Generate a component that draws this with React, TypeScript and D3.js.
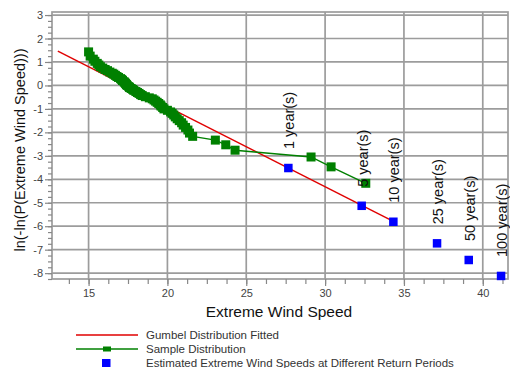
import React, { useEffect, useRef } from 'react';
import * as d3 from 'd3';

// sample distribution (ordered annual extremes)
const sampleSpeed = [
  15.0, 15.1, 15.3, 15.4, 15.55, 15.65, 15.75, 15.9, 16.05, 16.2,
  16.35, 16.5, 16.6, 16.7, 16.8, 16.9, 17.03, 17.1, 17.15, 17.25,
  17.3, 17.35, 17.4, 17.45, 17.55, 17.6, 17.7, 17.8, 17.87, 18.0,
  18.1, 18.2, 18.3, 18.4, 18.6, 18.85, 19.04, 19.15, 19.25, 19.35,
  19.45, 19.55, 19.6, 19.7, 19.78, 20.0, 20.2, 20.3, 20.4, 20.5,
  20.62, 20.75, 20.9, 21.0, 21.15, 21.3, 21.4, 21.6, 23.04, 23.7,
  24.29, 29.11, 30.38, 32.58,
];
const sampleLnLn = [
  1.43, 1.25, 1.12, 1.03, 0.94, 0.87, 0.8, 0.74, 0.68, 0.63,
  0.57, 0.52, 0.48, 0.43, 0.38, 0.34, 0.29, 0.25, 0.21, 0.16,
  0.12, 0.08, 0.04, 0.0, -0.05, -0.09, -0.13, -0.17, -0.21, -0.26,
  -0.3, -0.34, -0.39, -0.43, -0.48, -0.53, -0.57, -0.62, -0.67, -0.72,
  -0.77, -0.83, -0.88, -0.94, -1.0, -1.06, -1.13, -1.19, -1.26, -1.34,
  -1.42, -1.5, -1.59, -1.69, -1.79, -1.9, -2.03, -2.17, -2.33, -2.53,
  -2.76, -3.05, -3.47, -4.17,
];

// fitted gumbel line (end points)
const fittedSpeed = [13.05, 34.33];
const fittedLnLn = [1.46, -5.79];

// return period estimates
const returnLabels = ['1 year(s)', '5 year(s)', '10 year(s)', '25 year(s)', '50 year(s)', '100 year(s)'];
const returnSpeed = [27.67, 32.32, 34.33, 37.1, 39.11, 41.16];
const returnLnLn = [-3.52, -5.13, -5.81, -6.73, -7.44, -8.12];

const xTicks = [15, 20, 25, 30, 35, 40];
const yTicks = [3, 2, 1, 0, -1, -2, -3, -4, -5, -6, -7, -8];

const legendLabels = [
  'Gumbel Distribution Fitted',
  'Sample Distribution',
  'Estimated Extreme Wind Speeds at Different Return Periods',
];

const WIDTH = 510;
const HEIGHT = 368;
const FONT = '"Liberation Sans", Arial, sans-serif';

const App = () => {
  const svgRef = useRef<SVGSVGElement>(null);

  useEffect(() => {
    const svg = d3.select(svgRef.current);
    svg.selectAll('*').remove();

    const left = 52, right = 508, top = 12, bottom = 279;
    const xScale = d3.scaleLinear().domain([12.68, 41.6]).range([left, right]);
    const yScale = d3.scaleLinear().domain([-8.25, 3.13]).range([bottom, top]);
    const gridColor = '#9c9c9c';

    svg.append('rect').attr('width', WIDTH).attr('height', HEIGHT).attr('fill', '#fff');

    // grid
    const grid = svg.append('g').attr('stroke', gridColor).attr('stroke-width', 1.7);
    grid.selectAll('.vx').data(xTicks).join('line')
      .attr('x1', d => xScale(d)).attr('x2', d => xScale(d))
      .attr('y1', top).attr('y2', bottom);
    grid.selectAll('.hy').data(yTicks).join('line')
      .attr('class', 'hy')
      .attr('x1', left).attr('x2', right)
      .attr('y1', d => yScale(d)).attr('y2', d => yScale(d));
    svg.append('rect')
      .attr('x', left).attr('y', top)
      .attr('width', right - left).attr('height', bottom - top)
      .attr('fill', 'none').attr('stroke', gridColor).attr('stroke-width', 1.7);

    // axes
    const xMinor = d3.range(13.75, 41.6, 1.25);
    const yMinor = d3.range(-8.25, 3.01, 0.25);

    const styleAxis = (g: any) => {
      g.select('.domain').remove();
      g.selectAll('line').attr('stroke', '#888').attr('stroke-width', 1.2);
      g.selectAll('text').attr('fill', '#444').style('font-family', FONT).style('font-size', '11px');
    };

    svg.append('g').attr('transform', `translate(0,${bottom})`)
      .call(d3.axisBottom(xScale).tickValues(xMinor).tickSize(5).tickFormat(() => ''))
      .call(styleAxis);
    svg.append('g').attr('transform', `translate(0,${bottom})`)
      .call(d3.axisBottom(xScale).tickValues(xTicks).tickSize(7).tickPadding(3).tickFormat(d3.format('d')))
      .call(styleAxis);
    svg.append('g').attr('transform', `translate(${left},0)`)
      .call(d3.axisLeft(yScale).tickValues(yMinor).tickSize(4).tickFormat(() => ''))
      .call(styleAxis);
    svg.append('g').attr('transform', `translate(${left},0)`)
      .call(d3.axisLeft(yScale).tickValues(yTicks).tickSize(7).tickPadding(2).tickFormat(d => `${d}`))
      .call(styleAxis);

    // fitted line
    const line = d3.line<number>().x(i => xScale(fittedSpeed[i])).y(i => yScale(fittedLnLn[i]));
    svg.append('path')
      .attr('d', line(d3.range(fittedSpeed.length)))
      .attr('fill', 'none').attr('stroke', '#e00000').attr('stroke-width', 1.4);

    // sample distribution
    const sampleIdx = d3.range(sampleSpeed.length);
    const sLine = d3.line<number>().x(i => xScale(sampleSpeed[i])).y(i => yScale(sampleLnLn[i]));
    svg.append('path')
      .attr('d', sLine(sampleIdx))
      .attr('fill', 'none').attr('stroke', '#008000').attr('stroke-width', 1.4);
    const sq = 9;
    svg.append('g').selectAll('rect').data(sampleIdx).join('rect')
      .attr('x', i => xScale(sampleSpeed[i]) - sq / 2)
      .attr('y', i => yScale(sampleLnLn[i]) - sq / 2)
      .attr('width', sq).attr('height', sq)
      .attr('fill', '#008000');

    // return periods
    const bq = 8.5;
    const retIdx = d3.range(returnSpeed.length);
    svg.append('g').selectAll('rect').data(retIdx).join('rect')
      .attr('x', i => xScale(returnSpeed[i]) - bq / 2)
      .attr('y', i => yScale(returnLnLn[i]) - bq / 2)
      .attr('width', bq).attr('height', bq)
      .attr('fill', '#0000ff');
    svg.append('g').selectAll('text').data(retIdx).join('text')
      .attr('transform', i => `translate(${xScale(returnSpeed[i]) + 6},${yScale(returnLnLn[i]) - 19}) rotate(-90)`)
      .attr('fill', '#111')
      .style('font-family', FONT).style('font-size', '14.5px')
      .text(i => returnLabels[i]);

    // axis titles
    svg.append('text')
      .attr('x', 279).attr('y', 317)
      .attr('text-anchor', 'middle')
      .attr('fill', '#111')
      .style('font-family', FONT).style('font-size', '15.5px')
      .text('Extreme Wind Speed');
    svg.append('text')
      .attr('transform', `translate(25,150) rotate(-90)`)
      .attr('text-anchor', 'middle')
      .attr('fill', '#111')
      .style('font-family', FONT).style('font-size', '14.5px')
      .text('ln(-ln(P(Extreme Wind Speed)))');

    // legend
    const legend = svg.append('g').attr('transform', 'translate(0,335)');
    const rowH = 14;
    legend.append('line').attr('x1', 76).attr('x2', 138).attr('y1', 0).attr('y2', 0)
      .attr('stroke', '#e00000').attr('stroke-width', 1.4);
    legend.append('line').attr('x1', 76).attr('x2', 138).attr('y1', rowH).attr('y2', rowH)
      .attr('stroke', '#008000').attr('stroke-width', 1.4);
    legend.append('rect').attr('x', 103).attr('y', rowH - 2.5).attr('width', 8).attr('height', 5)
      .attr('fill', '#008000');
    legend.append('rect').attr('x', 102).attr('y', rowH * 2 - 4).attr('width', 8.5).attr('height', 8)
      .attr('fill', '#0000ff');
    legend.selectAll('text').data(legendLabels).join('text')
      .attr('x', 146).attr('y', (d, i) => i * rowH + 4)
      .attr('fill', '#333')
      .style('font-family', FONT).style('font-size', '11.5px')
      .text(d => d);
  }, []);

  return (
    <svg
      ref={svgRef}
      width={WIDTH}
      height={HEIGHT}
      style={{ position: 'absolute', left: 0, top: 0 }}
    />
  );
};

export default App;
